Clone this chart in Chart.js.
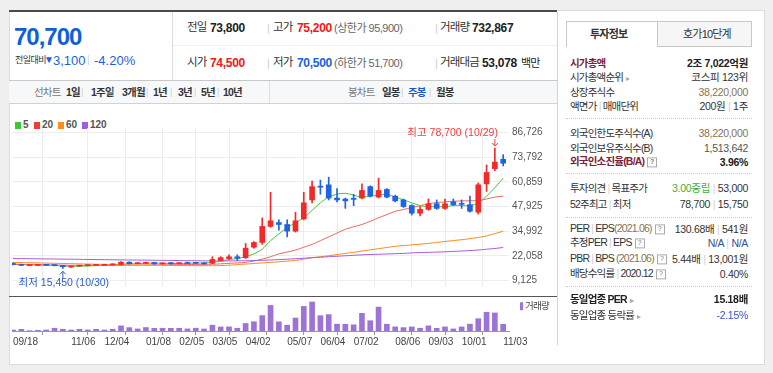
<!DOCTYPE html>
<html lang="ko">
<head>
<meta charset="utf-8">
<script src="https://cdn.jsdelivr.net/npm/chart.js@4.4.1/dist/chart.umd.min.js"></script>
<style>
  body { margin: 0; width: 773px; height: 373px; background: #efefef; position: relative; overflow: hidden;
         font-family: "Liberation Sans", "Noto Sans CJK KR", sans-serif; color: #333; }
  .box { position: absolute; left: 9px; top: 10px; width: 756px; height: 355px; background: #fff; border: 1px solid #dcdcdc; box-sizing: border-box; }
  .ln { position: absolute; }
  .t { position: absolute; white-space: nowrap; line-height: 1; transform: translateY(-50%); }
  .k { letter-spacing: -0.8px; }
  .b { font-weight: bold; }
  .s { font-size: 11px; }
  .sep { color: #cfcfcf; font-weight: normal; }
  .red { color: #f01818; }
  .blue { color: #1a5fe0; }
  .lbl { font-size: 10.5px; color: #333; letter-spacing: -0.8px; left: 570px; }
  .val { font-size: 10.5px; color: #333; right: 25px; letter-spacing: -0.3px; }
  .tan { color: #8a7350; }
  .mar { color: #7a1f3d; font-weight: bold; }
  .q { display: inline-block; width: 8px; height: 8px; border: 1px solid #aaa; font-size: 7px; line-height: 8px; text-align: center; color: #777; vertical-align: middle; margin-left: 3px; letter-spacing: 0; }
  .arr { color: #aaa; font-size: 8px; margin-left: 3px; }
  .dot { position: absolute; left: 566px; width: 186px; border-top: 1px dotted #d0d0d0; }
  .sq { display: inline-block; width: 6px; height: 7px; margin-right: 2px; vertical-align: -1px; }
  canvas { position: absolute; }
</style>
</head>
<body>
<div class="box"></div>

<!-- header -->
<div class="ln" style="left:9px;top:10px;width:548px;height:2px;background:#4a4a4a"></div>
<div class="ln" style="left:172px;top:12px;width:1px;height:68px;background:#dcdcdc"></div>
<div class="ln" style="left:9px;top:80px;width:548px;height:1px;background:#c8c8c8"></div>
<div class="ln" style="left:173px;top:45px;width:384px;height:1px;background:#efefef"></div>

<div class="t b blue" style="left:14px;top:37px;font-size:24px;letter-spacing:-1px;color:#0e5fd8">70,700</div>
<div class="t k" style="left:15px;top:60px;font-size:9px;letter-spacing:-0.5px">전일대비</div>
<div class="t blue" style="left:44px;top:60px;font-size:10px">▼</div>
<div class="t blue" style="left:53px;top:60px;font-size:13px">3,100</div>
<div class="t sep" style="left:87px;top:60px;font-size:10px">|</div>
<div class="t blue" style="left:94px;top:60px;font-size:13px">-4.20%</div>

<div class="t k" style="left:187px;top:28px;font-size:11.5px">전일</div>
<div class="t b" style="left:210px;top:28px;font-size:12px;color:#222;letter-spacing:-0.3px">73,800</div>
<div class="t sep" style="left:267px;top:28px;font-size:11px">|</div>
<div class="t k" style="left:273px;top:28px;font-size:11.5px">고가</div>
<div class="t b red" style="left:297px;top:28px;font-size:12px;letter-spacing:-0.3px">75,200</div>
<div class="t s" style="left:334px;top:28px;color:#666;letter-spacing:-0.5px">(상한가 95,900)</div>
<div class="t sep" style="left:435px;top:28px;font-size:11px">|</div>
<div class="t k" style="left:440px;top:28px;font-size:11.5px">거래량</div>
<div class="t b" style="left:472px;top:28px;font-size:12px;color:#222;letter-spacing:-0.3px">732,867</div>

<div class="t k" style="left:187px;top:63px;font-size:11.5px">시가</div>
<div class="t b red" style="left:210px;top:63px;font-size:12px;letter-spacing:-0.3px">74,500</div>
<div class="t sep" style="left:267px;top:63px;font-size:11px">|</div>
<div class="t k" style="left:273px;top:63px;font-size:11.5px">저가</div>
<div class="t b blue" style="left:297px;top:63px;font-size:12px;letter-spacing:-0.3px">70,500</div>
<div class="t s" style="left:334px;top:63px;color:#666;letter-spacing:-0.5px">(하한가 51,700)</div>
<div class="t sep" style="left:435px;top:63px;font-size:11px">|</div>
<div class="t k" style="left:440px;top:63px;font-size:11.5px">거래대금</div>
<div class="t b" style="left:482px;top:63px;font-size:12px;color:#222;letter-spacing:-0.3px">53,078</div>
<div class="t k" style="left:521px;top:63px;font-size:11px;color:#222">백만</div>

<!-- period bar -->
<div class="ln" style="left:9px;top:81px;width:548px;height:22px;background:#f7f8fa;border-bottom:1px solid #cfd3d8"></div>
<div class="ln" style="left:269px;top:81px;width:1px;height:22px;background:#dcdfe3"></div>
<div class="t k" style="left:34px;top:92px;font-size:10.5px;color:#777">선차트</div>
<div class="t b k" style="left:66px;top:92px;font-size:10.5px">1일</div>
<div class="t sep" style="left:81px;top:92px;font-size:9px">|</div>
<div class="t b k" style="left:91px;top:92px;font-size:10.5px">1주일</div>
<div class="t sep" style="left:112px;top:92px;font-size:9px">|</div>
<div class="t b k" style="left:122px;top:92px;font-size:10.5px">3개월</div>
<div class="t sep" style="left:146px;top:92px;font-size:9px">|</div>
<div class="t b k" style="left:153px;top:92px;font-size:10.5px">1년</div>
<div class="t sep" style="left:170px;top:92px;font-size:9px">|</div>
<div class="t b k" style="left:178px;top:92px;font-size:10.5px">3년</div>
<div class="t sep" style="left:194px;top:92px;font-size:9px">|</div>
<div class="t b k" style="left:201px;top:92px;font-size:10.5px">5년</div>
<div class="t sep" style="left:217px;top:92px;font-size:9px">|</div>
<div class="t b k" style="left:223px;top:92px;font-size:10.5px">10년</div>
<div class="t k" style="left:348px;top:92px;font-size:10.5px;color:#777">봉차트</div>
<div class="t b k" style="left:382px;top:92px;font-size:10.5px">일봉</div>
<div class="t sep" style="left:401px;top:92px;font-size:9px">|</div>
<div class="t b k blue" style="left:408px;top:92px;font-size:10.5px;color:#2058c8">주봉</div>
<div class="t sep" style="left:429px;top:92px;font-size:9px">|</div>
<div class="t b k" style="left:436px;top:92px;font-size:10.5px">월봉</div>

<!-- legend -->
<div class="t b" style="left:15px;top:125px;font-size:10px;color:#555"><span class="sq" style="background:#3cc43a"></span>5</div>
<div class="t b" style="left:34px;top:125px;font-size:10px;color:#555"><span class="sq" style="background:#f23a3a"></span>20</div>
<div class="t b" style="left:58px;top:125px;font-size:10px;color:#555"><span class="sq" style="background:#ff8a1f"></span>60</div>
<div class="t b" style="left:82px;top:125px;font-size:10px;color:#555"><span class="sq" style="background:#a55be0"></span>120</div>

<canvas id="priceChart" width="537" height="178" style="left:12px;top:118px"></canvas>
<canvas id="volChart" width="537" height="54" style="left:12px;top:296px"></canvas>
<div class="ln" style="left:9px;top:296px;width:548px;height:1px;background:#555"></div>
<div class="t k" style="left:520px;top:306px;font-size:9.5px;color:#444"><span class="sq" style="background:#9d74d6;width:3px;height:8px"></span>거래량</div>

<!-- right panel -->
<div class="ln" style="left:557px;top:12px;width:1px;height:333px;background:#d5d5d5"></div>
<div class="ln" style="left:566px;top:21px;width:92px;height:26px;border:1px solid #c8c8c8;border-bottom:none;box-sizing:border-box;background:#fff"></div>
<div class="ln" style="left:657px;top:21px;width:95px;height:26px;border:1px solid #c8c8c8;box-sizing:border-box;background:#f6f6f6"></div>
<div class="t b k" style="left:590px;top:34px;font-size:11px;color:#333">투자정보</div>
<div class="t k" style="left:683px;top:34px;font-size:11px;color:#333">호가10단계</div>

<div class="t lbl mar" style="top:63px">시가총액</div>
<div class="t val b" style="top:63px;color:#222">2조 7,022억원</div>
<div class="t lbl" style="top:77px">시가총액순위<span class="arr">▸</span></div>
<div class="t val" style="top:77px">코스피 123위</div>
<div class="t lbl" style="top:92px">상장주식수</div>
<div class="t val tan" style="top:92px">38,220,000</div>
<div class="t lbl" style="top:106px">액면가 <span class="sep">|</span> 매매단위</div>
<div class="t val" style="top:106px">200원 <span class="sep">|</span> 1주</div>
<div class="dot" style="top:118px"></div>
<div class="t lbl" style="top:133px">외국인한도주식수(A)</div>
<div class="t val tan" style="top:133px">38,220,000</div>
<div class="t lbl" style="top:148px">외국인보유주식수(B)</div>
<div class="t val" style="top:148px;color:#555">1,513,642</div>
<div class="t lbl mar" style="top:162px">외국인소진율(B/A)<span class="q">?</span></div>
<div class="t val b" style="top:162px;color:#222">3.96%</div>
<div class="dot" style="top:173px"></div>
<div class="t lbl" style="top:188px">투자의견 <span class="sep">|</span> 목표주가</div>
<div class="t val" style="top:188px"><span style="color:#3cb034">3.00중립</span> <span class="sep">|</span> 53,000</div>
<div class="t lbl" style="top:204px">52주최고 <span class="sep">|</span> 최저</div>
<div class="t val" style="top:204px">78,700 <span class="sep">|</span> 15,750</div>
<div class="dot" style="top:217px"></div>
<div class="t lbl" style="top:229px">PER <span class="sep">|</span> EPS<span class="tan">(2021.06)</span><span class="q">?</span></div>
<div class="t val" style="top:229px">130.68배 <span class="sep">|</span> 541원</div>
<div class="t lbl" style="top:243px">추정PER <span class="sep">|</span> EPS<span class="q">?</span></div>
<div class="t val" style="top:243px;color:#35508a">N/A <span class="sep">|</span> N/A</div>
<div class="t lbl" style="top:259px">PBR <span class="sep">|</span> BPS <span class="tan">(2021.06)</span><span class="q">?</span></div>
<div class="t val" style="top:259px">5.44배 <span class="sep">|</span> 13,001원</div>
<div class="t lbl" style="top:274px">배당수익률 <span class="sep">|</span> 2020.12<span class="q">?</span></div>
<div class="t val" style="top:274px">0.40%</div>
<div class="dot" style="top:286px"></div>
<div class="t lbl b" style="top:299px;color:#222">동일업종 PER<span class="arr">▸</span></div>
<div class="t val b" style="top:299px;color:#222">15.18배</div>
<div class="t lbl" style="top:315px">동일업종 등락률<span class="arr">▸</span></div>
<div class="t val" style="top:315px;color:#3a4fd0">-2.15%</div>

<script>
// weekly candles, 2020-09-18 .. 2021-11-03
const weeks = ['09/18','09/25','10/02','10/09','10/16','10/23','10/30','11/06','11/13','11/20',
  '11/27','12/04','12/11','12/18','12/24','12/30','01/08','01/15','01/22','01/29',
  '02/05','02/10','02/19','02/26','03/05','03/12','03/19','03/26','04/02','04/09',
  '04/16','04/23','04/30','05/07','05/14','05/21','05/28','06/04','06/11','06/18',
  '06/25','07/02','07/09','07/16','07/23','07/30','08/06','08/13','08/20','08/27',
  '09/03','09/10','09/17','09/24','10/01','10/08','10/15','10/22','10/29','11/03'];

const opens = [18000,17500,16900,17000,17300,17100,16900,16100,16600,16900,
  17000,17100,17300,17500,18700,17900,18100,18500,17800,18100,
  17900,18200,18400,18300,18100,19600,20550,21550,21050,26550,
  29050,37500,39500,38500,35000,41450,51400,58600,59350,52400,
  51900,52100,52400,58400,52900,56900,53400,51400,48450,44450,
  46450,49400,46950,50400,49400,48900,44950,59850,67850,72800];
const highs = [18300,17700,17300,17500,17500,17300,17000,16800,17100,17200,
  17400,17500,17800,19000,18900,18500,18800,18700,18300,18600,
  18400,18800,18600,18500,21550,21600,22550,22550,28550,29550,
  41950,55400,40950,40950,44950,55400,61350,61850,63350,57400,
  52400,54400,59850,58850,62850,57400,53900,51900,48900,47950,
  51900,51400,51900,51900,51400,53400,60350,69800,78700,75200];
const lows = [17200,16800,16800,16900,16900,16700,15450,15900,16400,16700,
  16800,17000,17100,17300,17700,17800,17900,17600,17600,17700,
  17800,17900,17900,17600,17900,19400,20300,19600,20600,26050,
  28050,37000,35500,32000,34500,40950,49900,54400,51400,50400,
  46950,48400,51900,52900,52400,52400,50400,47450,43450,42950,
  45950,46450,46450,48450,46950,44950,43950,55900,66800,69300];
const closes = [17400,17000,17100,17300,17050,16900,16300,16600,16900,17000,
  17100,17300,17500,18700,17900,18200,18500,17800,18000,17900,
  18100,18000,18100,17800,20100,21050,21550,20800,26050,29050,
  37500,40450,38500,35000,40450,49900,58400,58100,52400,51400,
  50900,51700,56400,53400,56400,52900,50900,47950,44450,46450,
  49400,46950,49400,48950,49100,45450,59350,65850,71300,70700];
// volume, thousand shares
const volumes = [380,620,120,250,370,1010,640,360,610,390,
  630,380,650,1880,1240,760,1270,990,1010,980,
  1000,760,1020,740,2130,1480,1520,1010,2760,3390,
  5630,9380,3370,2120,4760,9010,10640,5610,6020,2510,
  2490,2260,6480,3760,8770,2490,1510,1240,1490,1010,
  1880,990,1510,760,1490,2510,4510,6880,6620,2480];

const ma5 = [17800,17500,17300,17200,17100,17000,16700,16600,16600,16700,
  16900,17100,17300,17600,17800,17900,18100,18200,18100,18000,
  18000,18100,18200,18300,18600,19100,20100,20600,21550,23050,
  25550,30000,33500,36900,39450,41950,45950,49900,52900,54400,
  54900,53900,52900,53400,53900,54400,52900,51400,49900,48400,
  47900,47900,47900,48400,48400,48400,49900,53400,57900,62850];
const ma20 = [17500,17450,17400,17350,17300,17250,17150,17050,17000,16950,
  16950,16950,17000,17050,17100,17150,17200,17250,17300,17350,
  17400,17450,17500,17550,17600,17800,18100,18300,18600,19300,
  20300,21550,23050,24050,25050,26550,28050,30000,32000,34000,
  36000,37300,38500,40200,42000,43700,45400,46400,47400,48400,
  49400,50000,50400,50700,50900,50950,51000,51900,52900,53400];
const ma60 = [18600,18500,18400,18300,18200,18100,18000,17900,17800,17700,
  17600,17500,17400,17300,17250,17200,17150,17100,17050,17000,
  16950,16900,16900,16850,16850,16900,17100,17400,17700,18000,
  18300,18600,18900,19250,19600,20300,21050,21550,22050,22700,
  23300,23900,24550,25150,25800,26400,27050,27400,27800,28150,
  28550,29050,29550,30050,30500,31050,31700,32500,33700,35000];
const ma120 = [20600,20550,20500,20450,20400,20350,20300,20250,20200,20100,
  20050,20000,19950,19900,19850,19800,19750,19700,19650,19600,
  19550,19500,19450,19400,19350,19350,19350,19400,19450,19550,
  19700,19850,20050,20250,20500,20750,21050,21300,21550,21800,
  22050,22300,22550,22700,22850,23000,23150,23300,23550,23700,
  23850,24000,24150,24350,24550,24800,25100,25500,25900,26400];

const yTicks = [9125, 22058, 34992, 47925, 60859, 73792, 86726];
const xTickLabels = ['09/18','11/06','12/04','01/08','02/05','03/05','04/02',
  '05/07','06/04','07/02','08/06','09/03','10/01','11/03'];

const UP = '#f02a2a', DOWN = '#1e63e6';
const FONT = '"Liberation Sans", "Noto Sans CJK KR", sans-serif';
const fmt = v => Math.round(v).toLocaleString('en-US');
const tickIdx = xTickLabels.map(l => weeks.indexOf(l));
const candleColor = weeks.map((w, i) => closes[i] >= opens[i] ? UP : DOWN);
const pts = arr => arr.map((v, i) => ({ x: i, y: v }));

const X_MIN = -0.12, X_MAX = 59.7;

// high / low markers
const hiLoPlugin = {
  id: 'hiLo',
  afterDatasetsDraw(chart) {
    const { ctx, scales: { x, y } } = chart;
    const hi = highs.indexOf(Math.max(...highs));
    const lo = lows.indexOf(Math.min(...lows));
    ctx.save();
    ctx.font = '10.5px ' + FONT;
    ctx.textBaseline = 'middle';
    // high
    let px = x.getPixelForValue(hi), py = y.getPixelForValue(highs[hi]);
    ctx.strokeStyle = ctx.fillStyle = '#f03c3c';
    ctx.lineWidth = 1;
    ctx.beginPath(); ctx.moveTo(px, py - 9); ctx.lineTo(px, py - 2); ctx.stroke();
    ctx.beginPath(); ctx.moveTo(px - 3, py - 5); ctx.lineTo(px, py - 2); ctx.lineTo(px + 3, py - 5); ctx.stroke();
    ctx.textAlign = 'right';
    ctx.fillText('최고 ' + fmt(highs[hi]) + ' (' + weeks[hi] + ')', px + 3, py - 15);
    // low
    px = x.getPixelForValue(lo); py = y.getPixelForValue(lows[lo]);
    ctx.strokeStyle = ctx.fillStyle = '#2d5bd0';
    ctx.beginPath(); ctx.moveTo(px, py + 3); ctx.lineTo(px, py + 10); ctx.stroke();
    ctx.beginPath(); ctx.moveTo(px - 3, py + 6); ctx.lineTo(px, py + 3); ctx.lineTo(px + 3, py + 6); ctx.stroke();
    ctx.textAlign = 'center';
    ctx.fillText('최저 ' + fmt(lows[lo]) + ' (' + weeks[lo] + ')', px + 1, py + 15);
    ctx.restore();
  }
};

const maLine = (data, color) => ({
  type: 'line', data: pts(data), borderColor: color, borderWidth: 1,
  pointRadius: 0, tension: 0.3, order: 2
});

new Chart(document.getElementById('priceChart'), {
  type: 'bar',
  data: {
    datasets: [
      { data: weeks.map((w, i) => ({ x: i, y: [lows[i], highs[i]] })), backgroundColor: candleColor,
        barThickness: 1, grouped: false, order: 1 },
      { data: weeks.map((w, i) => ({ x: i, y: [opens[i], closes[i]] })), backgroundColor: candleColor,
        barThickness: 5, minBarLength: 1, grouped: false, order: 0 },
      maLine(ma120, '#a55be0'),
      maLine(ma60, '#ff8a1f'),
      maLine(ma20, '#f46464'),
      maLine(ma5, '#47c23a')
    ]
  },
  options: {
    responsive: false,
    animation: false,
    layout: { padding: { top: 10, left: 0, right: 0, bottom: 0 } },
    plugins: { legend: { display: false }, tooltip: { enabled: false } },
    scales: {
      x: {
        type: 'linear', min: X_MIN, max: X_MAX, offset: false,
        afterBuildTicks: s => { s.ticks = tickIdx.map(v => ({ value: v })); },
        afterFit: s => { s.height = 0; },
        ticks: { display: false },
        grid: { color: '#ededed', drawTicks: false },
        border: { display: false }
      },
      y: {
        position: 'right', min: 5643, max: 89213,
        afterBuildTicks: s => { s.ticks = yTicks.map(v => ({ value: v })); },
        afterFit: s => { s.width = 40; },
        ticks: { callback: v => fmt(v), color: '#555', padding: 3, font: { size: 10, family: FONT } },
        grid: { color: '#ededed', drawTicks: false },
        border: { display: false }
      }
    }
  },
  plugins: [hiLoPlugin]
});

new Chart(document.getElementById('volChart'), {
  type: 'bar',
  data: {
    datasets: [{ data: pts(volumes), backgroundColor: '#9d74d6', barThickness: 5 }]
  },
  options: {
    responsive: false,
    animation: false,
    layout: { padding: { top: 5, left: 0, right: 40, bottom: 0 } },
    plugins: { legend: { display: false }, tooltip: { enabled: false } },
    scales: {
      x: {
        type: 'linear', min: X_MIN, max: X_MAX, offset: false,
        afterBuildTicks: s => { s.ticks = tickIdx.map(v => ({ value: v })); },
        afterFit: s => { s.height = 19; },
        ticks: { callback: v => weeks[v], align: 'start', maxRotation: 0, autoSkip: false,
                 color: '#444', padding: 1, font: { size: 10, family: FONT } },
        grid: { drawOnChartArea: false, tickLength: 4, color: '#999' },
        border: { color: '#999' }
      },
      y: { display: false, min: 0, max: 11000 }
    }
  }
});
</script>
</body>
</html>
